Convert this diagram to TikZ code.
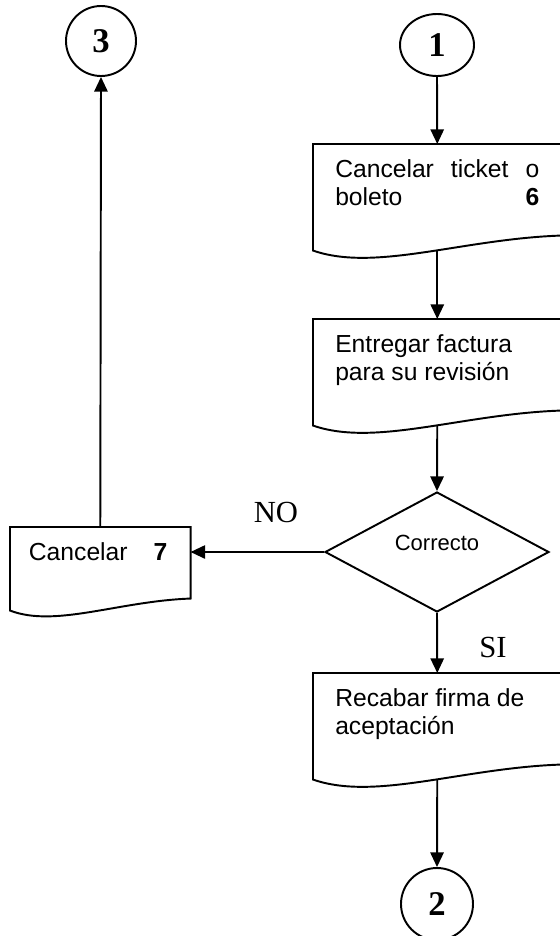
\documentclass[tikz,border=0pt]{standalone}
\usepackage{fontspec}
\setmainfont{Liberation Serif}
\newfontfamily\arialfont{Liberation Sans}
\usetikzlibrary{arrows.meta,shapes.geometric,calc}

% text of a document box, set from its top
\newcommand{\boxtxt}[3]{\parbox[c][#2][t]{#1}{\rule{0pt}{25pt}#3}}
% outline of a document box with its wavy bottom
\newcommand{\docwave}[2]{%
  \draw[outline] (#1.south west) -- (#1.north west) -- (#1.north east) -- ($(#1.south east)+(0,-#2)$)
    .. controls ($(#1.south west)!0.6!(#1.south east)+(0,-0.78*#2)$) and ($(#1.south west)!0.25!(#1.south east)+(0,1.45*#2)$) .. (#1.south west) -- cycle;}

\begin{document}
\begin{tikzpicture}[x=0.75pt,y=0.75pt,yscale=-1,
  outline/.style={line width=1.45pt},
  flow/.style={line width=1.45pt,-{Triangle[length=11pt,width=10pt]}},
  conn/.style={ellipse,draw,line width=1.45pt,inner sep=0pt,font=\fontsize{26}{28}\selectfont\bfseries},
  docu/.style={anchor=north west,inner xsep=16.5pt,inner ysep=0pt,font=\arialfont\fontsize{18.5}{21}\selectfont},
  decision/.style={diamond,draw,line width=1.45pt,inner sep=0pt,minimum width=168pt,minimum height=90pt,text depth=14pt,font=\arialfont\fontsize{16.5}{20}\selectfont},
  answer/.style={font=\fontsize{23}{26}\selectfont}]
\useasboundingbox (0,0) rectangle (560,936);
\clip (0,0) rectangle (560,936);

% connectors
\node[conn,minimum width=55.5pt,minimum height=46.5pt] (c1) at (437,45) {1};
\node[conn,minimum width=52.5pt,minimum height=52.5pt] (c3) at (101,41) {3};
\node[conn,minimum width=54pt,minimum height=54pt] (c2) at (437,904) {2};

% steps
\node[docu] (tkt) at (313,144) {\boxtxt{153pt}{79.5pt}{Cancelar\hfill ticket\hfill o\\boleto\hfill\textbf{6}}};
\node[docu] (fac) at (313,319) {\boxtxt{153pt}{79.5pt}{Entregar factura\\para su revisión}};
\node[decision] (corr) at (437,552) {Correcto};
\node[docu,inner xsep=14pt] (canc) at (10,527) {\boxtxt{107pt}{62.25pt}{Cancelar\hspace{19.5pt}\textbf{7}}};
\node[docu] (firma) at (313,673) {\boxtxt{153pt}{79.5pt}{Recabar firma de\\aceptación}};

\docwave{tkt}{15}
\docwave{fac}{15}
\docwave{firma}{15}
\docwave{canc}{12}

% answers
\node[answer] (no) at (276,512) {NO};
\node[answer] (si) at (493,647) {SI};

% flow
\draw[flow] (c1.south) -- (tkt.north);
\draw[flow] (tkt.south) -- (fac.north);
\draw[flow] (fac.south) -- (corr.north);
\draw[flow] (corr.south) -- (firma.north);
\draw[flow] (firma.south) -- (c2.north);
\draw[flow] (corr.west) -- (corr.west -| canc.east);
\draw[flow] (canc.north) -- (c3.south);

\end{tikzpicture}
\end{document}
